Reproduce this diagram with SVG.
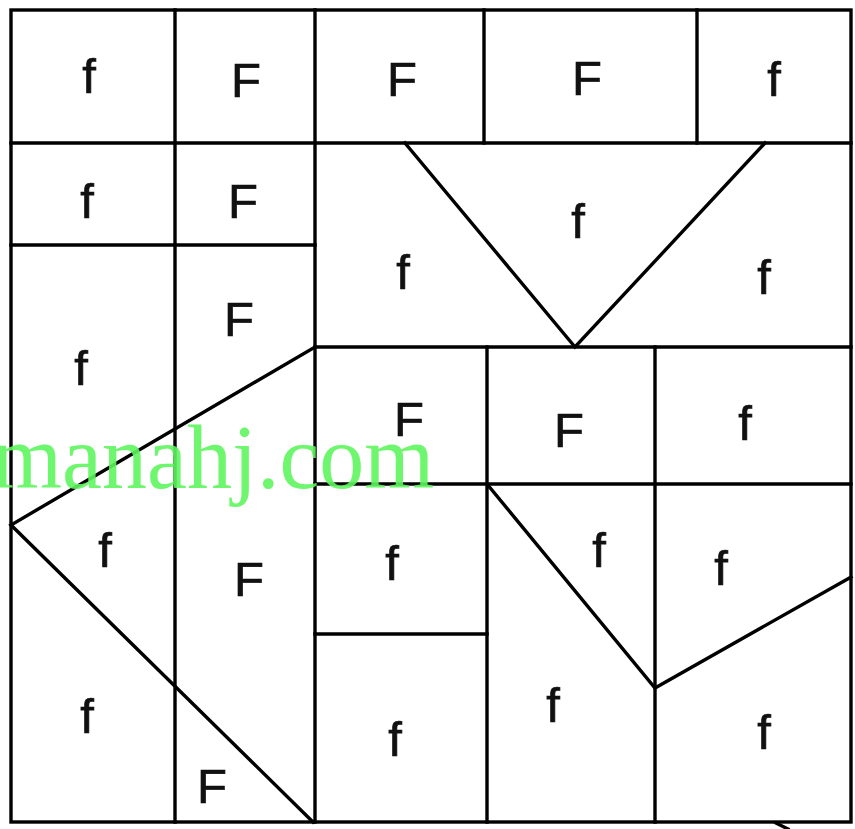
<svg xmlns="http://www.w3.org/2000/svg" width="855" height="829" viewBox="0 0 855 829">
<style>
.ln{stroke:#000;stroke-width:3.4;fill:none;stroke-linecap:square;stroke-linejoin:miter}
.t{font-family:"Liberation Sans",Arial,sans-serif;font-size:49px;fill:#111;stroke:#111;stroke-width:0.7;text-anchor:middle}
.wm{font-family:"Liberation Serif","Times New Roman",serif;font-size:90px;fill:#5ef55e;fill-opacity:0.9}
</style>
<rect width="855" height="829" fill="#fff"/>
<g id="lines">
<rect class="ln" x="11" y="10" width="840" height="812"/>
<line class="ln" x1="175" y1="10" x2="175" y2="822"/>
<line class="ln" x1="315" y1="10" x2="315" y2="822"/>
<line class="ln" x1="484" y1="10" x2="484" y2="143"/>
<line class="ln" x1="697" y1="10" x2="697" y2="143"/>
<line class="ln" x1="11" y1="143" x2="851" y2="143"/>
<line class="ln" x1="11" y1="245" x2="315" y2="245"/>
<polyline class="ln" points="405,143 575,347 765,143"/>
<line class="ln" x1="315" y1="347" x2="851" y2="347"/>
<polyline class="ln" points="315,347 11,525 313,822"/>
<line class="ln" x1="487" y1="347" x2="487" y2="822"/>
<line class="ln" x1="655" y1="347" x2="655" y2="822"/>
<line class="ln" x1="315" y1="484" x2="851" y2="484"/>
<line class="ln" x1="315" y1="634" x2="487" y2="634"/>
<polyline class="ln" points="487,484 655,688 851,577"/>
<line class="ln" x1="776" y1="823" x2="788" y2="829"/>
</g>
<g id="labels">
<text class="t" x="89" y="93">f</text>
<text class="t" x="246" y="97">F</text>
<text class="t" x="402" y="96">F</text>
<text class="t" x="587" y="95">F</text>
<text class="t" x="774" y="96">f</text>
<text class="t" x="87" y="218">f</text>
<text class="t" x="243" y="218">F</text>
<text class="t" x="403" y="289">f</text>
<text class="t" x="578" y="238">f</text>
<text class="t" x="764" y="294">f</text>
<text class="t" x="81" y="385">f</text>
<text class="t" x="239" y="336">F</text>
<text class="t" x="409" y="436">F</text>
<text class="t" x="569" y="447">F</text>
<text class="t" x="745" y="440">f</text>
<text class="t" x="105" y="567">f</text>
<text class="t" x="249" y="596">F</text>
<text class="t" x="392" y="580">f</text>
<text class="t" x="599" y="567">f</text>
<text class="t" x="721" y="585">f</text>
<text class="t" x="87" y="733">f</text>
<text class="t" x="212" y="803">F</text>
<text class="t" x="395" y="756">f</text>
<text class="t" x="553" y="722">f</text>
<text class="t" x="764" y="749">f</text>
</g>
<text class="wm" x="-8" y="488">manahj.com</text>
</svg>
